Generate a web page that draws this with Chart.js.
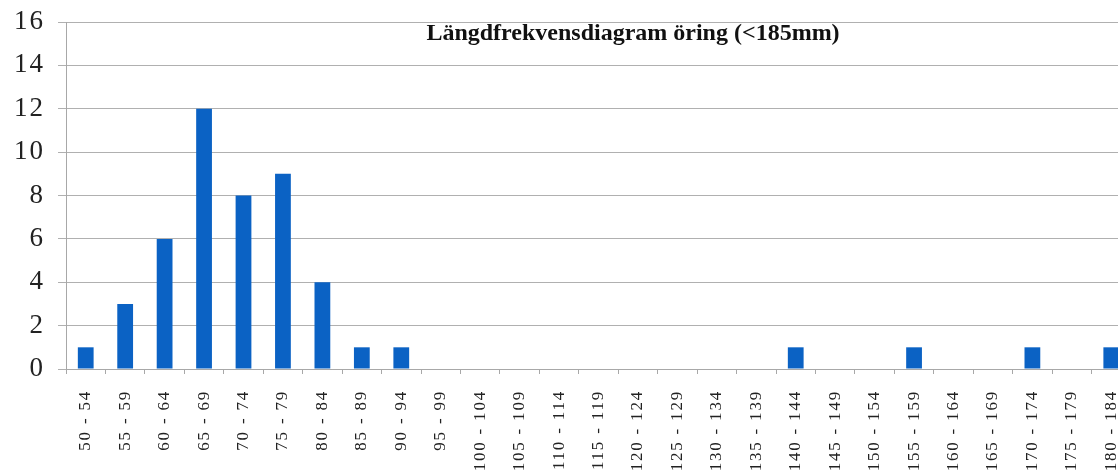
<!DOCTYPE html>
<html>
<head>
<meta charset="utf-8">
<script src="https://cdn.jsdelivr.net/npm/chart.js@4/dist/chart.umd.min.js"></script>
<style>
html,body{margin:0;padding:0;background:#fff;overflow:hidden;}
#wrap{position:relative;width:1140px;height:472px;}
</style>
</head>
<body>
<div id="wrap"><canvas id="c"></canvas></div>
<script>
const categories = ['50 - 54','55 - 59','60 - 64','65 - 69','70 - 74','75 - 79','80 - 84','85 - 89','90 - 94','95 - 99',
  '100 - 104','105 - 109','110 - 114','115 - 119','120 - 124','125 - 129','130 - 134','135 - 139','140 - 144',
  '145 - 149','150 - 154','155 - 159','160 - 164','165 - 169','170 - 174','175 - 179','180 - 184'];
const counts = [1,3,6,12,8,9,4,1,1,0,0,0,0,0,0,0,0,0,1,0,0,1,0,0,1,0,1];
const yTicks = [0,2,4,6,8,10,12,14,16];
const chartTitle = 'Längdfrekvensdiagram öring (<185mm)';

const spacingPlugin = {
  id: 'spacing',
  beforeDraw(chart) {
    [['x', '1.8px'], ['y', '2px']].forEach(([id, ls]) => {
      const s = chart.scales[id];
      if (s && !s.__ls) {
        const orig = s.drawLabels;
        s.drawLabels = function (a) {
          const c = this.ctx;
          const p = c.letterSpacing;
          c.letterSpacing = ls;
          orig.call(this, a);
          c.letterSpacing = p;
        };
        s.__ls = true;
      }
    });
  }
};

const titlePlugin = {
  id: 'innerTitle',
  afterDraw(chart) {
    const ctx = chart.ctx;
    ctx.save();
    ctx.font = 'bold 24px "Liberation Serif", "Times New Roman", serif';
    ctx.fillStyle = '#111';
    ctx.textAlign = 'center';
    ctx.textBaseline = 'middle';
    ctx.fillText(chartTitle, 633, chart.chartArea.top + 12);
    ctx.restore();
  }
};

function zeroPad(scale) {
  scale.paddingTop = 0; scale.paddingBottom = 0; scale.paddingLeft = 0; scale.paddingRight = 0;
}

new Chart(document.getElementById('c'), {
  type: 'bar',
  data: {
    labels: categories,
    datasets: [{
      data: counts,
      backgroundColor: '#0B62C4',
      borderWidth: 0,
      categoryPercentage: 1,
      barPercentage: 0.4
    }]
  },
  options: {
    responsive: true,
    maintainAspectRatio: false,
    animation: false,
    layout: { padding: { top: 22, right: 9, left: 0, bottom: 0 } },
    plugins: { legend: { display: false }, tooltip: { enabled: false }, title: { display: false } },
    scales: {
      x: {
        offset: true,
        grid: { display: true, drawOnChartArea: false, drawTicks: true, tickLength: 5, color: '#a8a8a8', offset: true },
        border: { display: true, color: '#a8a8a8', width: 1 },
        ticks: {
          autoSkip: false, minRotation: 90, maxRotation: 90, padding: 16,
          color: '#222',
          font: { family: '"Liberation Serif", "Times New Roman", serif', size: 17 }
        },
        afterFit(scale) { scale.height = 103; zeroPad(scale); }
      },
      y: {
        min: 0, max: 16,
        afterBuildTicks(scale) { scale.ticks = yTicks.map(v => ({ value: v })); },
        grid: { color: '#b0b0b0', lineWidth: 1, drawTicks: true, tickLength: 8 },
        border: { display: true, color: '#a8a8a8', width: 1 },
        ticks: {
          padding: 13,
          color: '#222',
          font: { family: '"Liberation Serif", "Times New Roman", serif', size: 27 }
        },
        afterFit(scale) { scale.width = 66; zeroPad(scale); }
      }
    }
  },
  plugins: [spacingPlugin, titlePlugin]
});
</script>
</body>
</html>
